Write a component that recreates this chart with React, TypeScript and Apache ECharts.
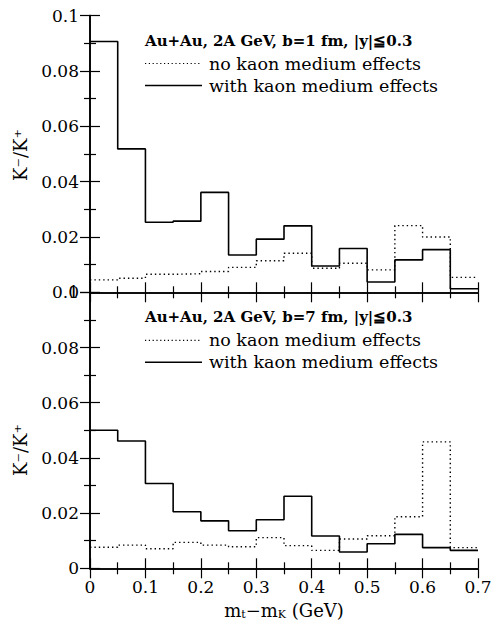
import React, { useEffect, useRef } from "react";
import * as echarts from "echarts";

// bin lower edges (GeV), bin width 0.05
const binEdges = [0, 0.05, 0.1, 0.15, 0.2, 0.25, 0.3, 0.35, 0.4, 0.45, 0.5, 0.55, 0.6, 0.65, 0.7];

// b = 1 fm panel
const b1WithMedium = [0.0906, 0.0518, 0.0253, 0.0257, 0.0361, 0.0135, 0.0192, 0.024, 0.0095, 0.0158, 0.0037, 0.0117, 0.0154, 0.0013];
const b1NoMedium = [0.0045, 0.0051, 0.0065, 0.0067, 0.0075, 0.009, 0.0114, 0.0141, 0.0087, 0.0105, 0.0081, 0.0241, 0.02, 0.0054];

// b = 7 fm panel
const b7WithMedium = [0.05, 0.0461, 0.0307, 0.0205, 0.0172, 0.0136, 0.0176, 0.0261, 0.0117, 0.0059, 0.0089, 0.0123, 0.0075, 0.0065];
const b7NoMedium = [0.0076, 0.0084, 0.0071, 0.0094, 0.0084, 0.0078, 0.0111, 0.0082, 0.0065, 0.0106, 0.0118, 0.0187, 0.0458, 0.0075];

const panelTitles = ["Au+Au, 2A GeV, b=1 fm, |y|≦0.3", "Au+Au, 2A GeV, b=7 fm, |y|≦0.3"];
const legendLabels = ["no kaon medium effects", "with kaon medium effects"];

const FONT = "DejaVu Serif";

function stepData(vals: number[]) {
  const pts: [number, number][] = vals.map((v, i) => [binEdges[i], v]);
  pts.push([binEdges[binEdges.length - 1], vals[vals.length - 1]]);
  return pts;
}

const fmt = (v: number) => (v === 0 ? "0" : String(parseFloat(v.toFixed(3))));

export default function App() {
  const ref = useRef<HTMLDivElement>(null);
  useEffect(() => {
    if (!ref.current) return;
    const chart = echarts.init(ref.current, undefined, { renderer: "svg" });
    const L = 90, R = 478, T1 = 15.5, B1 = 292.3, B2 = 568.3;
    const grids = [
      { left: L, top: T1, width: R - L, height: B1 - T1 },
      { left: L, top: B1, width: R - L, height: B2 - B1 },
    ];
    const axisLine = { show: true, lineStyle: { color: "#000", width: 1.6 } };
    const tick = { show: true, inside: true, length: 10, lineStyle: { color: "#000", width: 1.2 } };
    const minor = { show: true, splitNumber: 2, length: 6, lineStyle: { color: "#000", width: 1.2 } };
    const labelStyle = { color: "#000", fontFamily: FONT, fontSize: 17, formatter: fmt };

    const xAxes: any[] = [];
    const yAxes: any[] = [];
    [0, 1].forEach((g) => {
      ["bottom", "top"].forEach((pos) => {
        xAxes.push({
          type: "value", gridIndex: g, position: pos, min: 0, max: 0.7, interval: 0.1,
          axisLine, axisTick: tick, minorTick: minor, splitLine: { show: false },
          axisLabel: { ...labelStyle, show: g === 1 && pos === "bottom", margin: 10 },
        });
      });
      ["left", "right"].forEach((pos) => {
        yAxes.push({
          type: "value", gridIndex: g, position: pos, min: 0, max: 0.1, interval: 0.02,
          axisLine, axisTick: tick, minorTick: minor, splitLine: { show: false },
          axisLabel: { ...labelStyle, show: pos === "left", margin: 11 },
        });
      });
    });

    const mk = (vals: number[], idx: number, dotted: boolean) => ({
      type: "line", xAxisIndex: idx * 2, yAxisIndex: idx * 2, step: "end",
      data: stepData(vals), symbol: "none", silent: true,
      lineStyle: dotted
        ? { color: "#000", width: 1.4, type: [1.4, 3] }
        : { color: "#000", width: 1.6, type: "solid" },
    });

    const graphics: any[] = [];
    grids.forEach((gr, i) => {
      const top = gr.top;
      graphics.push({
        type: "text", x: 145, y: top + 25,
        style: { text: panelTitles[i], font: `bold 15px "${FONT}"`, fill: "#000", textVerticalAlign: "middle" },
      });
      graphics.push({
        type: "line", shape: { x1: 145, y1: top + 48, x2: 200, y2: top + 48 },
        style: { stroke: "#000", lineWidth: 1.2, lineDash: [1.2, 2.6] },
      });
      graphics.push({
        type: "text", x: 209, y: top + 48,
        style: { text: legendLabels[0], font: `17.5px "${FONT}"`, fill: "#000", textVerticalAlign: "middle" },
      });
      graphics.push({
        type: "line", shape: { x1: 145, y1: top + 70, x2: 202, y2: top + 70 },
        style: { stroke: "#000", lineWidth: 1.6 },
      });
      graphics.push({
        type: "text", x: 209, y: top + 70,
        style: { text: legendLabels[1], font: `17.5px "${FONT}"`, fill: "#000", textVerticalAlign: "middle" },
      });
    });
    [155, 450].forEach((cy) => {
      graphics.push({
        type: "text", x: 20, y: cy, rotation: Math.PI / 2,
        style: { text: "K⁻/K⁺", font: `18px "${FONT}"`, fill: "#000", textAlign: "center", textVerticalAlign: "middle" },
      });
    });
    graphics.push({
      type: "text", x: 284, y: 610,
      style: {
        text: "{m|m}{s|t}{m|−m}{s|K}{m| (GeV)}",
        textAlign: "center", textVerticalAlign: "middle",
        rich: {
          m: { font: `18px "${FONT}"`, fill: "#000" },
          s: { font: `11px "${FONT}"`, fill: "#000", padding: [9, 0, 0, 0] },
        },
      },
    });

    chart.setOption({
      animation: false,
      backgroundColor: "#fff",
      grid: grids,
      xAxis: xAxes,
      yAxis: yAxes,
      series: [
        mk(b1NoMedium, 0, true),
        mk(b1WithMedium, 0, false),
        mk(b7NoMedium, 1, true),
        mk(b7WithMedium, 1, false),
      ],
      graphic: graphics,
    });
    return () => chart.dispose();
  }, []);
  return <div ref={ref} style={{ position: "absolute", left: 0, top: 0, width: 496, height: 630 }} />;
}
